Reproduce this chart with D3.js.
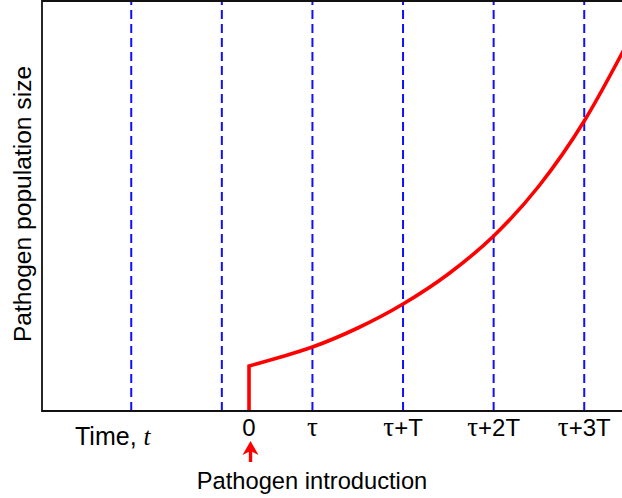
<!DOCTYPE html>
<html>
<head>
<meta charset="utf-8">
<script src="https://cdn.jsdelivr.net/npm/d3@7"></script>
<style>
  html, body { margin: 0; padding: 0; background: #fff; }
  svg { display: block; }
  text { font-family: "Liberation Sans", Arial, sans-serif; fill: #000; }
  .greek { font-family: "Liberation Serif", "DejaVu Serif", serif; }
</style>
</head>
<body>
<div id="chart"></div>
<script>
// Time is measured in units of the generation period T; tau = 0.7 T.
const dashedTimes = [-1.3, -0.3, 0.7, 1.7, 2.7, 3.7];
const tickTimes = [0, 0.7, 1.7, 2.7, 3.7];
const tickLabels = [["0"], ["τ"], ["τ", "+T"], ["τ", "+2T"], ["τ", "+3T"]];

// Pathogen population size after introduction at t = 0 (arbitrary units)
const curveTimes = [0, 0.35, 0.7, 1.2, 1.7, 2.2, 2.7, 3.2, 3.7, 4.2];
const curveSize  = [45, 54, 64, 83, 107, 137, 175, 225, 290, 372];

const width = 622, height = 498;
const margin = { left: 42, top: 1, bottom: 411 };

const svg = d3.select("#chart").append("svg")
  .attr("width", width).attr("height", height);

const x = d3.scaleLinear().domain([-2.285, 4.35]).range([margin.left, margin.left + 90.6 * 6.635]);
const y = d3.scaleLinear().domain([0, 410]).range([margin.bottom, margin.top]);

// dashed reference lines
svg.append("g").selectAll("line").data(dashedTimes).join("line")
  .attr("x1", d => x(d)).attr("x2", d => x(d))
  .attr("y1", y(0)).attr("y2", y(410))
  .attr("stroke", "#1010ff").attr("stroke-width", 2)
  .attr("stroke-dasharray", "9,5");

// population curve: jump at introduction, then exponential growth
const pts = curveTimes.map((t, i) => [t, curveSize[i]]);
const line = d3.line().x(d => x(d[0])).y(d => y(d[1])).curve(d3.curveMonotoneX);
const d = `M${x(0)},${y(0)}` + line(pts).replace(/^M/, "L");
svg.append("path").attr("d", d)
  .attr("fill", "none").attr("stroke", "#ff0000").attr("stroke-width", 3.6)
  .attr("stroke-linejoin", "miter");

// frame: left, bottom, top
svg.append("path")
  .attr("d", `M${width + 5},${y(410)}H${margin.left}V${y(0)}H${width + 5}`)
  .attr("fill", "none").attr("stroke", "#111").attr("stroke-width", 1.8);

// tick labels
const ticks = svg.append("g").selectAll("text").data(tickTimes).join("text")
  .attr("x", d => x(d)).attr("y", 436)
  .attr("text-anchor", "middle")
  .style("font-size", "24px");
ticks.each(function(d, i) {
  const parts = tickLabels[i];
  const sel = d3.select(this);
  parts.forEach(p => {
    const ts = sel.append("tspan").text(p);
    if (p === "τ") ts.attr("class", "greek").style("font-size", "27px");
  });
});

// axis titles
const tl = svg.append("text").attr("x", 75).attr("y", 445).style("font-size", "25px");
tl.append("tspan").text("Time, ");
tl.append("tspan").attr("class", "greek").style("font-style", "italic").text("t");

svg.append("text")
  .attr("transform", `translate(31,204) rotate(-90)`)
  .attr("text-anchor", "middle")
  .style("font-size", "24.6px")
  .text("Pathogen population size");

// introduction marker
const ax = x(0) + 1.5;
svg.append("line")
  .attr("x1", ax).attr("x2", ax).attr("y1", 450).attr("y2", 462)
  .attr("stroke", "#ff0000").attr("stroke-width", 3.4);
svg.append("path")
  .attr("d", `M${ax},441L${ax + 8},455L${ax},451L${ax - 8},455Z`)
  .attr("fill", "#ff0000");

svg.append("text")
  .attr("x", 312).attr("y", 489)
  .attr("text-anchor", "middle")
  .style("font-size", "23.7px")
  .text("Pathogen introduction");
</script>
</body>
</html>
